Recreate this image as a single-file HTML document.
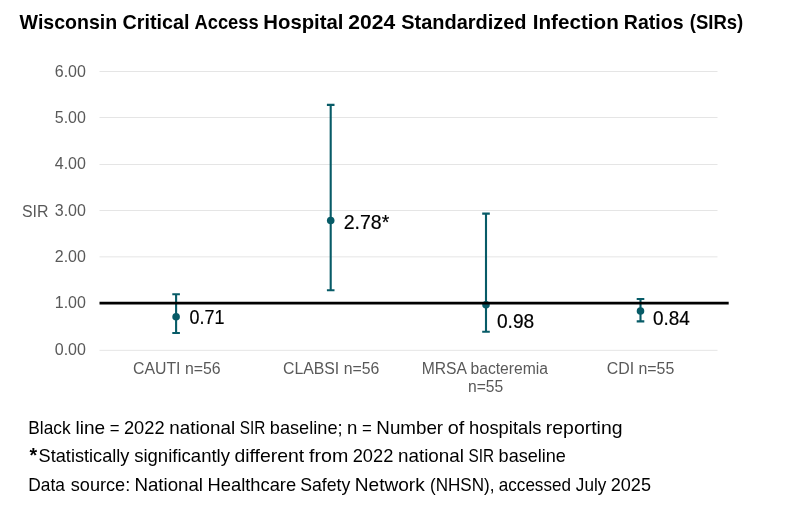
<!DOCTYPE html>
<html lang="en">
<head>
<meta charset="utf-8">
<title>Wisconsin Critical Access Hospital 2024 Standardized Infection Ratios (SIRs)</title>
<style>
html,body{margin:0;padding:0;background:#fff;}
body{width:791px;height:515px;overflow:hidden;}
svg{display:block;}
text{font-family:"Liberation Sans",sans-serif;}
.title text{font-weight:bold;font-size:20.4px;fill:#000;}
.axis text{font-size:16px;fill:#595959;}
.cat text,text.cat{font-size:16px;fill:#595959;}
.val text{font-size:20.2px;fill:#000;stroke:#000;stroke-width:0.2px;}
.note text{font-size:18.1px;fill:#000;}
.grid line{stroke:#e5e5e5;stroke-width:1;}
.eb{stroke:#075b67;stroke-width:2.1;fill:none;}
.dot{fill:#075b67;}
</style>
</head>
<body>
<svg width="791" height="515" viewBox="0 0 791 515">
<rect width="791" height="515" fill="#fff"/>
<g class="title">
<text x="19.60" y="28.7" textLength="97.61" lengthAdjust="spacingAndGlyphs">Wisconsin</text>
<text x="122.51" y="28.7" textLength="66.98" lengthAdjust="spacingAndGlyphs">Critical</text>
<text x="194.54" y="28.7" textLength="64.15" lengthAdjust="spacingAndGlyphs">Access</text>
<text x="263.28" y="28.7" textLength="80.24" lengthAdjust="spacingAndGlyphs">Hospital</text>
<text x="348.37" y="28.7" textLength="46.82" lengthAdjust="spacingAndGlyphs">2024</text>
<text x="401.20" y="28.7" textLength="125.38" lengthAdjust="spacingAndGlyphs">Standardized</text>
<text x="532.76" y="28.7" textLength="86.01" lengthAdjust="spacingAndGlyphs">Infection</text>
<text x="623.83" y="28.7" textLength="59.68" lengthAdjust="spacingAndGlyphs">Ratios</text>
<text x="689.77" y="28.7" textLength="53.44" lengthAdjust="spacingAndGlyphs">(SIRs)</text>
</g>
<g class="grid">
<line x1="99.5" x2="717.5" y1="71.5" y2="71.5"/>
<line x1="99.5" x2="717.5" y1="117.5" y2="117.5"/>
<line x1="99.5" x2="717.5" y1="164.5" y2="164.5"/>
<line x1="99.5" x2="717.5" y1="210.5" y2="210.5"/>
<line x1="99.5" x2="717.5" y1="256.85" y2="256.85"/>
<line x1="99.5" x2="717.5" y1="350.35" y2="350.35"/>
</g>
<g class="axis" text-anchor="end">
<text x="85.9" y="77.0">6.00</text>
<text x="85.9" y="123.0">5.00</text>
<text x="85.9" y="169.0">4.00</text>
<text x="85.9" y="216.0">3.00</text>
<text x="85.9" y="262.0">2.00</text>
<text x="85.9" y="308.0">1.00</text>
<text x="85.9" y="355.0">0.00</text>
</g>
<text class="cat" x="21.89" y="216.8" textLength="26.48" lengthAdjust="spacingAndGlyphs">SIR</text>
<g class="eb">
<path d="M176.1 294.3V333.0M172.3 294.3h7.6M172.3 333.0h7.6"/>
<path d="M330.7 104.9V290.2M326.9 104.9h7.6M326.9 290.2h7.6"/>
<path d="M486.0 213.6V331.8M482.2 213.6h7.6M482.2 331.8h7.6"/>
<path d="M640.5 299.0V321.4M636.7 299.0h7.6M636.7 321.4h7.6"/>
</g>
<circle class="dot" cx="176.1" cy="316.7" r="3.8"/>
<circle class="dot" cx="330.7" cy="220.5" r="3.8"/>
<circle class="dot" cx="486.0" cy="304.8" r="3.8"/>
<circle class="dot" cx="640.5" cy="311.0" r="3.8"/>
<line x1="99.5" x2="728.7" y1="303.15" y2="303.15" stroke="#000" stroke-width="2.8"/>
<g class="val">
<text x="189.57" y="324.1" textLength="34.86" lengthAdjust="spacingAndGlyphs">0.71</text>
<text x="343.72" y="228.9" textLength="45.58" lengthAdjust="spacingAndGlyphs">2.78*</text>
<text x="496.93" y="327.9" textLength="37.26" lengthAdjust="spacingAndGlyphs">0.98</text>
<text x="653.04" y="325.2" textLength="36.86" lengthAdjust="spacingAndGlyphs">0.84</text>
</g>
<g class="cat">
<text x="133.01" y="374.1" textLength="87.53" lengthAdjust="spacingAndGlyphs">CAUTI n=56</text>
<text x="283.01" y="374.1" textLength="96.26" lengthAdjust="spacingAndGlyphs">CLABSI n=56</text>
<text x="421.75" y="374.1" textLength="126.26" lengthAdjust="spacingAndGlyphs">MRSA bacteremia</text>
<text x="467.98" y="391.8" textLength="35.28" lengthAdjust="spacingAndGlyphs">n=55</text>
<text x="606.71" y="374.1" textLength="67.57" lengthAdjust="spacingAndGlyphs">CDI n=55</text>
</g>
<g class="note">
<text x="28.32" y="433.7" textLength="42.30" lengthAdjust="spacingAndGlyphs">Black</text>
<text x="75.58" y="433.7" textLength="29.63" lengthAdjust="spacingAndGlyphs">line</text>
<text x="109.73" y="433.7" textLength="9.77" lengthAdjust="spacingAndGlyphs">=</text>
<text x="123.95" y="433.7" textLength="40.63" lengthAdjust="spacingAndGlyphs">2022</text>
<text x="169.21" y="433.7" textLength="66.01" lengthAdjust="spacingAndGlyphs">national</text>
<text x="239.74" y="433.7" textLength="25.64" lengthAdjust="spacingAndGlyphs">SIR</text>
<text x="269.85" y="433.7" textLength="72.69" lengthAdjust="spacingAndGlyphs">baseline;</text>
<text x="347.00" y="433.7" textLength="10.35" lengthAdjust="spacingAndGlyphs">n</text>
<text x="362.09" y="433.7" textLength="9.77" lengthAdjust="spacingAndGlyphs">=</text>
<text x="376.32" y="433.7" textLength="66.82" lengthAdjust="spacingAndGlyphs">Number</text>
<text x="447.68" y="433.7" textLength="16.57" lengthAdjust="spacingAndGlyphs">of</text>
<text x="469.06" y="433.7" textLength="72.37" lengthAdjust="spacingAndGlyphs">hospitals</text>
<text x="545.83" y="433.7" textLength="76.67" lengthAdjust="spacingAndGlyphs">reporting</text>
<text x="29.5" y="461.9" style="font-size:19.6px;font-weight:bold">*</text>
<text x="38.58" y="462.2" textLength="90.85" lengthAdjust="spacingAndGlyphs">Statistically</text>
<text x="134.15" y="462.2" textLength="95.85" lengthAdjust="spacingAndGlyphs">significantly</text>
<text x="234.50" y="462.2" textLength="69.68" lengthAdjust="spacingAndGlyphs">different</text>
<text x="309.01" y="462.2" textLength="39.27" lengthAdjust="spacingAndGlyphs">from</text>
<text x="352.69" y="462.2" textLength="40.63" lengthAdjust="spacingAndGlyphs">2022</text>
<text x="397.95" y="462.2" textLength="66.01" lengthAdjust="spacingAndGlyphs">national</text>
<text x="468.48" y="462.2" textLength="25.64" lengthAdjust="spacingAndGlyphs">SIR</text>
<text x="498.59" y="462.2" textLength="67.31" lengthAdjust="spacingAndGlyphs">baseline</text>
<text x="28.31" y="490.7" textLength="36.64" lengthAdjust="spacingAndGlyphs">Data</text>
<text x="70.80" y="490.7" textLength="59.37" lengthAdjust="spacingAndGlyphs">source:</text>
<text x="134.40" y="490.7" textLength="68.59" lengthAdjust="spacingAndGlyphs">National</text>
<text x="207.52" y="490.7" textLength="88.62" lengthAdjust="spacingAndGlyphs">Healthcare</text>
<text x="300.24" y="490.7" textLength="50.10" lengthAdjust="spacingAndGlyphs">Safety</text>
<text x="354.78" y="490.7" textLength="69.98" lengthAdjust="spacingAndGlyphs">Network</text>
<text x="429.99" y="490.7" textLength="64.42" lengthAdjust="spacingAndGlyphs">(NHSN),</text>
<text x="498.84" y="490.7" textLength="72.10" lengthAdjust="spacingAndGlyphs">accessed</text>
<text x="575.84" y="490.7" textLength="30.43" lengthAdjust="spacingAndGlyphs">July</text>
<text x="610.74" y="490.7" textLength="40.22" lengthAdjust="spacingAndGlyphs">2025</text>
</g>
</svg>
</body>
</html>
